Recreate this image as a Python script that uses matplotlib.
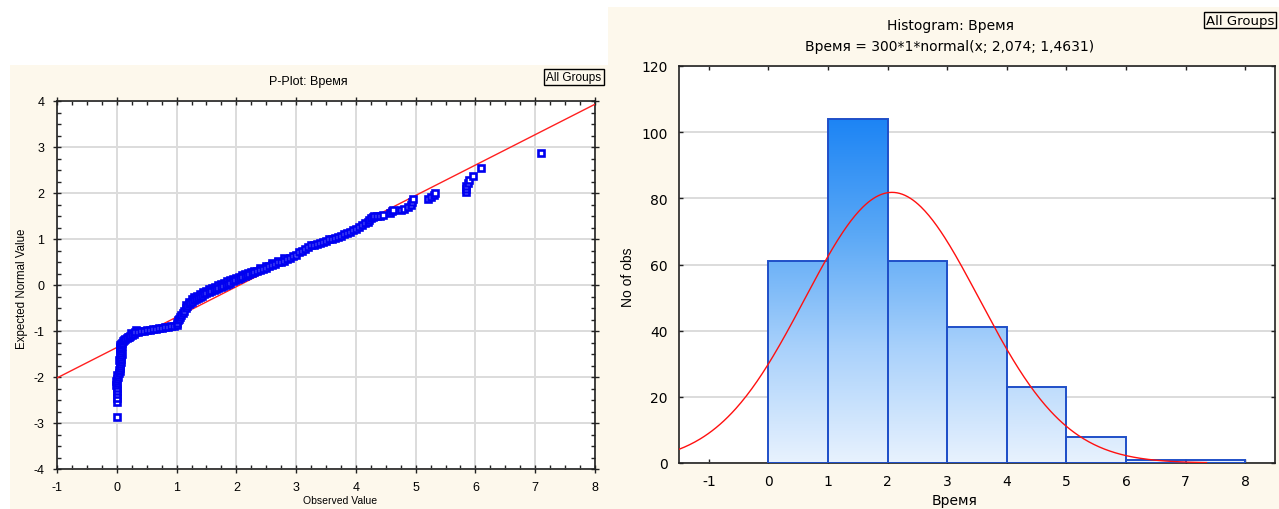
import numpy as np
import matplotlib
matplotlib.use("Agg")
import matplotlib.pyplot as plt
from matplotlib.patches import Rectangle
from matplotlib.colors import LinearSegmentedColormap
from matplotlib.ticker import MultipleLocator

plt.rcParams["font.family"] = ["Liberation Sans", "DejaVu Sans"]
plt.rcParams["axes.unicode_minus"] = False

# ---------------- data ----------------
obs_x = [
    0.00, 0.00, 0.00, 0.00, 0.00, 0.01, -0.01, 0.00, -0.01, 0.01,
    0.02, 0.01, 0.03, 0.05, 0.04, 0.06, 0.05, 0.06, 0.07, 0.06,
    0.07, 0.06, 0.07, 0.06, 0.07, 0.05, 0.06, 0.05, 0.06, 0.07,
    0.08, 0.10, 0.12, 0.14, 0.17, 0.20, 0.22, 0.25, 0.28, 0.30,
    0.35, 0.40, 0.45, 0.50, 0.55, 0.60, 0.65, 0.70, 0.75, 0.80,
    0.85, 0.90, 0.95, 1.00,
    1.00, 1.02, 1.04, 1.06, 1.08, 1.10, 1.12, 1.15, 1.18, 1.20,
    1.23, 1.26, 1.30, 1.33, 1.36, 1.40, 1.43, 1.46, 1.50, 1.54,
    1.58, 1.62, 1.66, 1.70, 1.74, 1.78, 1.82, 1.86, 1.90, 1.94,
    1.98, 2.02, 2.06, 2.10, 2.14, 2.18, 2.22, 2.26, 2.30, 2.35,
    2.40, 2.45, 2.50, 2.55, 2.60, 2.65, 2.70, 2.75, 2.80, 2.85,
    2.90, 2.95, 3.00,
    3.05, 3.10, 3.15, 3.20, 3.25, 3.30, 3.35, 3.40, 3.45, 3.50,
    3.55, 3.60, 3.65, 3.70, 3.75, 3.80, 3.85, 3.90, 3.95, 4.00,
    4.05, 4.10, 4.15, 4.20, 4.22, 4.25, 4.28, 4.30, 4.35, 4.40,
    4.45,
    4.57, 4.60, 4.62, 4.75, 4.80, 4.88, 4.93, 4.94, 4.95, 5.20,
    5.25, 5.30, 5.32, 5.84, 5.84, 5.85, 5.88, 5.90, 5.96, 6.10,
    7.10,
]
exp_y = [
    -2.87, -2.54, -2.45, -2.38, -2.30, -2.24, -2.18, -2.13, -2.08, -2.04,
    -2.00, -1.96, -1.92, -1.88, -1.84, -1.80, -1.76, -1.72, -1.68, -1.64,
    -1.60, -1.56, -1.52, -1.48, -1.44, -1.40, -1.37, -1.34, -1.31, -1.28,
    -1.25, -1.22, -1.20, -1.17, -1.15, -1.13, -1.11, -1.09, -1.06, -1.03,
    -1.02, -1.00, -0.99, -0.98, -0.97, -0.96, -0.95, -0.94, -0.93, -0.92,
    -0.91, -0.90, -0.89, -0.87,
    -0.82, -0.77, -0.73, -0.69, -0.65, -0.60, -0.56, -0.51, -0.46, -0.42,
    -0.39, -0.36, -0.33, -0.31, -0.28, -0.25, -0.23, -0.20, -0.18, -0.16,
    -0.13, -0.11, -0.09, -0.07, -0.05, -0.02, 0.00, 0.03, 0.05, 0.08,
    0.10, 0.13, 0.15, 0.17, 0.19, 0.21, 0.24, 0.26, 0.28, 0.30,
    0.32, 0.35, 0.38, 0.41, 0.44, 0.46, 0.49, 0.51, 0.53, 0.56,
    0.59, 0.62, 0.66,
    0.71, 0.75, 0.79, 0.83, 0.86, 0.88, 0.90, 0.92, 0.94, 0.96,
    0.99, 1.01, 1.03, 1.05, 1.07, 1.10, 1.13, 1.16, 1.19, 1.22,
    1.26, 1.30, 1.34, 1.38, 1.42, 1.45, 1.48, 1.49, 1.50, 1.51,
    1.53,
    1.57, 1.60, 1.62, 1.64, 1.66, 1.69, 1.74, 1.80, 1.86, 1.88,
    1.92, 1.96, 1.99, 2.03, 2.09, 2.15, 2.22, 2.28, 2.38, 2.54,
    2.87,
]
# points on the upper edge of the dense band
obs_x_upper = [
    0.04, 0.08, 0.07, 0.08, 0.18, 0.24, 0.32,
    1.15, 1.20, 1.25, 1.30, 1.35, 1.40, 1.45, 1.50, 1.55, 1.60,
    1.65, 1.70, 1.75, 1.80, 1.85, 1.90, 1.95, 2.00, 2.05, 2.10,
    2.15, 2.20, 2.25, 2.30, 2.40, 2.50, 2.60, 2.70, 2.80,
]
exp_y_upper = [
    -1.62, -1.50, -1.40, -1.33, -1.12, -1.05, -0.98,
    -0.43, -0.36, -0.31, -0.27, -0.23, -0.19, -0.15, -0.12, -0.09, -0.06,
    -0.04, -0.01, 0.02, 0.05, 0.08, 0.10, 0.13, 0.16, 0.18, 0.21,
    0.23, 0.26, 0.28, 0.31, 0.36, 0.42, 0.47, 0.53, 0.58,
]
# reference line endpoints (observed, expected)
line_x = [-1, 8]
line_y = [-2.02, 3.93]

# Histogram
bin_left = [0, 1, 2, 3, 4, 5, 6, 7]
counts = [61, 104, 61, 41, 23, 8, 1, 1]
n_obs = 300
mean_t = 2.074
sd_t = 1.4631

# ---------------- figure ----------------
W, H = 1279, 510
fig = plt.figure(figsize=(W / 100, H / 100), dpi=100)
fig.patch.set_facecolor("white")
cream = "#fdf8ec"
wide = ["DejaVu Sans"]


def fx(px):
    return px / W


def fy(py):
    return 1 - py / H


# panel backgrounds
fig.patches.append(Rectangle((fx(10), 0), fx(598), fy(66), transform=fig.transFigure,
                             facecolor=cream, edgecolor="none", zorder=-5))
fig.patches.append(Rectangle((fx(608), 0), fx(671), fy(8), transform=fig.transFigure,
                             facecolor=cream, edgecolor="none", zorder=-5))

grid_col = "#dcdcdc"

# ---------- left: P-Plot ----------
ax1 = fig.add_axes([fx(57), fy(470), fx(538), (470 - 102) / H])
ax1.set_facecolor("white")
ax1.set_xlim(-1, 8)
ax1.set_ylim(-4, 4)
ax1.xaxis.set_major_locator(MultipleLocator(1))
ax1.yaxis.set_major_locator(MultipleLocator(1))
ax1.xaxis.set_minor_locator(MultipleLocator(0.25))
ax1.yaxis.set_minor_locator(MultipleLocator(0.25))
ax1.grid(True, which="major", color=grid_col, linewidth=1.4)
ax1.set_axisbelow(True)
ax1.tick_params(which="both", direction="in", top=True, right=True,
                labelsize=9, color="#222222", pad=6)
ax1.tick_params(which="major", direction="inout", length=6, width=1)
ax1.tick_params(which="minor", length=3, width=1)
for s in ax1.spines.values():
    s.set_linewidth(1.2)
    s.set_color("#222222")

ax1.plot(line_x, line_y, color="#ff2020", linewidth=1, zorder=3)
marker_style = dict(linestyle="none", marker="s", markersize=4.4, markerfacecolor="white",
                    markeredgecolor="#0000f0", markeredgewidth=1.9, zorder=4)
ax1.plot(obs_x_upper, exp_y_upper, **marker_style)
ax1.plot(obs_x, exp_y, **marker_style)

fig.text(fx(340), fy(501), "Observed Value", fontsize=7.5, ha="center", va="center")
fig.text(fx(22), fy(289), "Expected Normal Value", fontsize=8.3, ha="center", va="center",
         rotation=90)
fig.text(fx(308), fy(82), "P-Plot: Время", fontsize=9, ha="center", va="center")
fig.text(fx(574), fy(78), "All Groups", fontsize=8.5, ha="center", va="center",
         bbox=dict(boxstyle="square,pad=0.2", facecolor=cream, edgecolor="black", linewidth=1))

# ---------- right: Histogram ----------
ax2 = fig.add_axes([fx(679), fy(464), fx(596), (464 - 67) / H])
ax2.set_facecolor("white")
ax2.yaxis.set_major_locator(MultipleLocator(20))
ax2.xaxis.set_major_locator(MultipleLocator(1))
ax2.yaxis.grid(True, color=grid_col, linewidth=1.4)
ax2.set_axisbelow(True)
ax2.tick_params(direction="in", top=True, right=True, length=3, width=1,
                labelsize=10, color="#222222", pad=8)
for s in ax2.spines.values():
    s.set_linewidth(1.2)
    s.set_color("#222222")

cmap = LinearSegmentedColormap.from_list(
    "statblue", ["#e8f2fe", "#a9d1fb", "#5aa8f6", "#1c84f4"])
grad = np.linspace(0, 1, 256).reshape(-1, 1)
bars = ax2.bar(bin_left, counts, width=1, align="edge", facecolor="none",
               edgecolor="#1f4fc8", linewidth=1.4, zorder=3)
for b in bars:
    im = ax2.imshow(grad, extent=(-1.5, 8.5, 0, 104), origin="lower", cmap=cmap,
                    aspect="auto", zorder=2, interpolation="bilinear")
    im.set_clip_path(b)

xc = np.linspace(-1.5, 7.35, 400)
yc = n_obs * 1 * np.exp(-0.5 * ((xc - mean_t) / sd_t) ** 2) / (sd_t * np.sqrt(2 * np.pi))
ax2.plot(xc, yc, color="#ff1010", linewidth=1, zorder=4)
ax2.set_xlim(-1.5, 8.5)
ax2.set_ylim(0, 120)
for lab in ax2.get_xticklabels() + ax2.get_yticklabels():
    lab.set_family(wide)

fig.text(fx(955), fy(501), "Время", fontsize=10, family=wide, ha="center", va="center")
fig.text(fx(628), fy(277), "No of obs", fontsize=10, ha="center", va="center", rotation=90)
fig.text(fx(950), fy(26), "Histogram: Время", fontsize=10, family=wide,
         ha="center", va="center")
fig.text(fx(950), fy(47), "Время = 300*1*normal(x; 2,074; 1,4631)", fontsize=10,
         family=wide, ha="center", va="center")
fig.text(fx(1274), fy(21), "All Groups", fontsize=9.5, family=wide, ha="right", va="center",
         bbox=dict(boxstyle="square,pad=0.15", facecolor=cream, edgecolor="black", linewidth=1))

fig.savefig("out.png", dpi=100, facecolor=fig.get_facecolor())
